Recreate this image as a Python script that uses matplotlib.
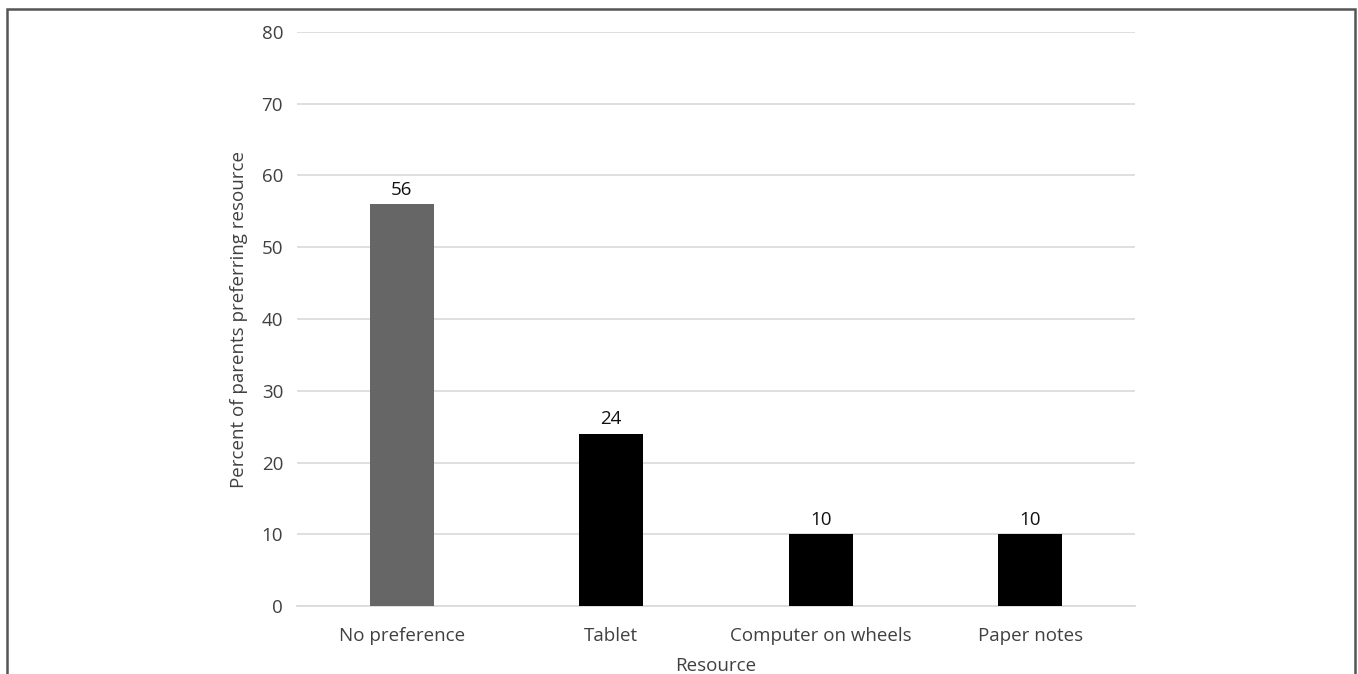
import matplotlib
matplotlib.use("Agg")
import matplotlib.pyplot as plt
from matplotlib.patches import Rectangle

# data
resources = ["No preference", "Tablet", "Computer on wheels", "Paper notes"]
percent = [56, 24, 10, 10]
bar_colors = ["#666666", "#000000", "#000000", "#000000"]
yticks = [0, 10, 20, 30, 40, 50, 60, 70, 80]

plt.rcParams['font.family'] = ['Open Sans', 'DejaVu Sans']
txt = "#404040"
fs = 13.5

W, H = 1358, 674
fig = plt.figure(figsize=(W / 100, H / 100), dpi=100)
ax = fig.add_axes([297 / W, 1 - 606 / H, 838 / W, 574 / H])

x = range(len(resources))
bars = ax.bar(x, percent, width=0.305, color=bar_colors, zorder=3)
for b, v in zip(bars, percent):
    ax.annotate(str(v), (b.get_x() + b.get_width() / 2, v), xytext=(0, 4),
                textcoords="offset points", ha="center", va="bottom",
                fontsize=fs, color="#111111")

ax.set_xlim(-0.5, len(resources) - 0.5)
ax.set_ylim(0, 80)
ax.set_yticks(yticks)
ax.set_xticks(list(x))
ax.set_xticklabels(resources)
ax.yaxis.grid(True, color="#d9d9d9", linewidth=1.2, zorder=0)
for s in ["top", "right", "left"]:
    ax.spines[s].set_visible(False)
ax.spines["bottom"].set_color("#d9d9d9")
ax.spines["bottom"].set_linewidth(1.2)
ax.tick_params(axis="both", length=0, labelsize=fs, labelcolor=txt)
ax.tick_params(axis="y", pad=10)
ax.tick_params(axis="x", pad=15)

ax.set_ylabel("Percent of parents preferring resource", fontsize=fs, color=txt, labelpad=10)
ax.set_xlabel("Resource", fontsize=fs, color=txt, labelpad=9)

# thin frame around the figure (bottom edge is cut off in the original)
fig.add_artist(Rectangle((7 / W, -0.05), (1355 - 7) / W, 1.05 - 9 / H,
                         transform=fig.transFigure, fill=False,
                         edgecolor="#555555", linewidth=1.8))

fig.savefig("out.png", dpi=100)
